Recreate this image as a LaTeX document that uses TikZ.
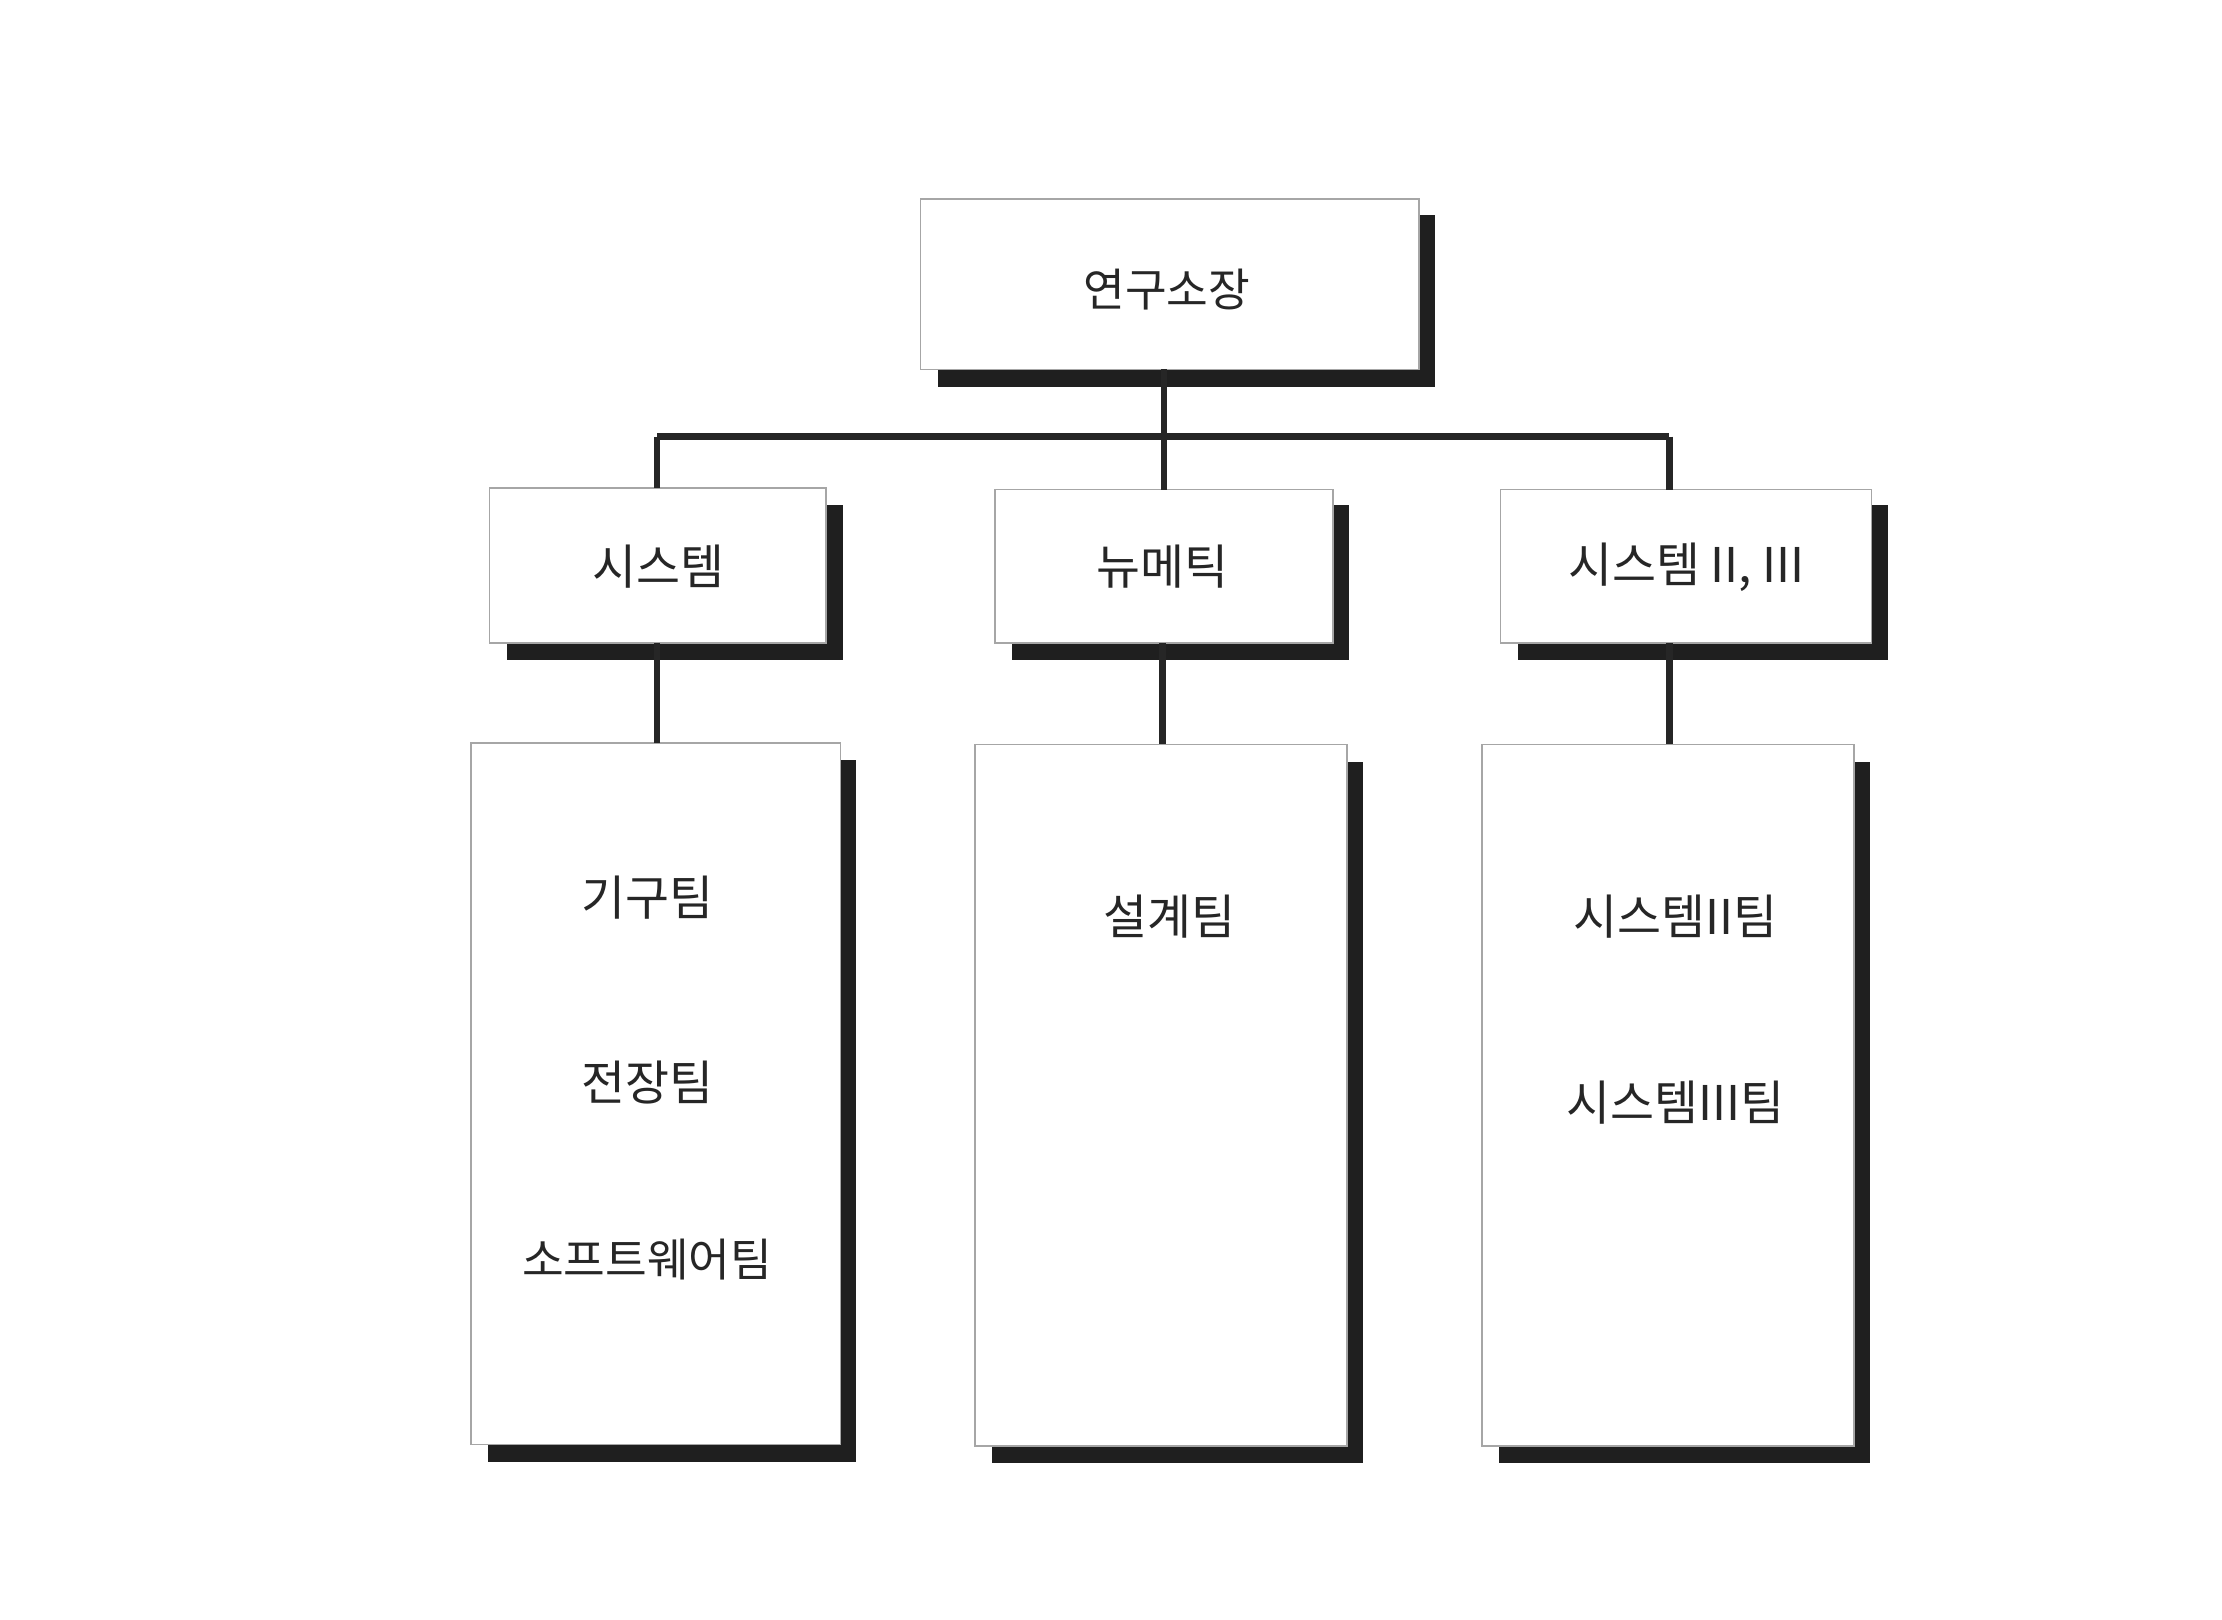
\documentclass[tikz,border=0pt]{standalone}
\usepackage{fontspec}
\newfontfamily\kr{Noto Sans CJK KR}
\begin{document}
\begin{tikzpicture}[x=0.01cm,y=-0.01cm,
  box/.style={draw=black!35,line width=0.3pt,fill=white},
  shadow/.style={fill=black!88,draw=none},
  conn/.style={line width=1.3pt,black!85},
  lab/.style={font=\kr\fontsize{9.5}{11}\selectfont,text=black!85}]
\useasboundingbox (0,0) rectangle (1552,1131);
\fill[white] (0,0) rectangle (1552,1131);
% shadows
\fill[shadow] (655,150) rectangle (1002,270);
\fill[shadow] (354,353) rectangle (589,461);
\fill[shadow] (707,353) rectangle (942,461);
\fill[shadow] (1060,353) rectangle (1319,461);
\fill[shadow] (341,531) rectangle (598,1021);
\fill[shadow] (693,532) rectangle (952,1022);
\fill[shadow] (1047,532) rectangle (1306,1022);
% boxes
\draw[box] (643,139) rectangle (991,258) node[midway] (top) {};
\draw[box] (342,341) rectangle (577,449) node[midway] (a) {};
\draw[box] (695,342) rectangle (931,449) node[midway] (b) {};
\draw[box] (1048,342) rectangle (1307,449) node[midway] (c) {};
\draw[box] (329,519) rectangle (587,1009) node[midway] (a3) {};
\draw[box] (681,520) rectangle (941,1010) node[midway] (b3) {};
\draw[box] (1035,520) rectangle (1295,1010) node[midway] (c3) {};
% connectors
\coordinate (topb) at (813,258);
\coordinate (j) at (813,305);
\coordinate (jl) at (459,305);
\coordinate (jr) at (1166,305);
\coordinate (at) at (459,341);
\coordinate (bt) at (813,342);
\coordinate (ct) at (1166,342);
\draw[conn] (topb) -- (j);
\draw[conn] (jl) -- (jr);
\draw[conn] (jl) -- (at);
\draw[conn] (j) -- (bt);
\draw[conn] (jr) -- (ct);
\coordinate (ab) at (459,449); \coordinate (a3t) at (459,519);
\coordinate (bb) at (812,449); \coordinate (b3t) at (812,520);
\coordinate (cb) at (1166,449); \coordinate (c3t) at (1166,520);
\draw[conn] (ab) -- (a3t);
\draw[conn] (bb) -- (b3t);
\draw[conn] (cb) -- (c3t);
% labels
\node[lab,font=\kr\fontsize{9}{11}\selectfont] (t0) at (815,202) {연구소장};
\node[lab] (t1) at (460,396) {시스템};
\node[lab] (t2) at (812,396) {뉴메틱};
\node[lab] (t3) at (1178,396) {시스템 II, III};
\node[lab] (t4) at (452,627) {기구팀};
\node[lab] (t5) at (452,756) {전장팀};
\node[lab,font=\kr\fontsize{9}{11}\selectfont] (t6) at (452,880) {소프트웨어팀};
\node[lab] (t7) at (817,640) {설계팀};
\node[lab] (t8) at (1170,640) {시스템II팀};
\node[lab] (t9) at (1170,770) {시스템III팀};
\end{tikzpicture}
\end{document}
